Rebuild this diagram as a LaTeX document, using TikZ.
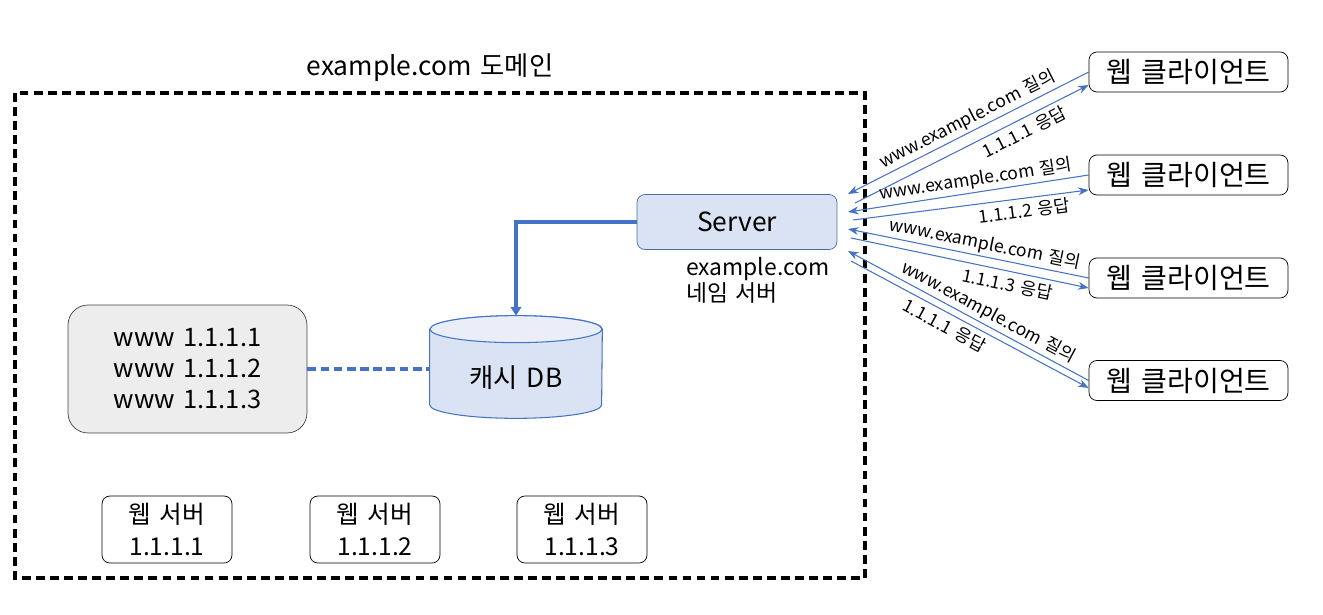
\documentclass[tikz,border=0pt]{standalone}
\usepackage{fontspec}
\setmainfont[WordSpace=1.5]{Noto Sans CJK KR}
\usepackage{tikz}
\usetikzlibrary{arrows.meta}
\definecolor{acblue}{HTML}{4472C4}
\definecolor{srvline}{HTML}{41719C}
\definecolor{srvfill}{HTML}{DAE3F3}
\definecolor{dbtop}{HTML}{E9EEF8}
\definecolor{recfill}{HTML}{EDEDED}
\newcommand{\bigtxt}{\fontsize{15}{18}\selectfont}
\newcommand{\smalltxt}{\fontsize{10}{12}\selectfont}

\begin{document}
\begin{tikzpicture}[x=0.02cm, y=0.02cm,
    box/.style={draw, rounded corners=4.5pt, align=center, inner sep=0pt, font=\bigtxt},
    client/.style={box, minimum width=3.98cm, minimum height=0.8cm, font=\fontsize{16}{19}\selectfont},
    web/.style={box, minimum width=2.6cm, minimum height=1.34cm, font=\fontsize{14}{18}\selectfont},
    srv/.style={box, draw=srvline, fill=srvfill, minimum width=4cm, minimum height=1.1cm},
    dnsbox/.style={box, draw=black!75, fill=recfill, rounded corners=0.4cm, minimum width=4.78cm, minimum height=2.56cm, font=\fontsize{14.5}{17.6}\selectfont},
    dbline/.style={draw=acblue, line width=0.6pt},
    domainbox/.style={line width=2pt, dash pattern=on 5pt off 3pt},
    elbow/.style={acblue, line width=2pt, -{Triangle[length=5pt,width=6pt]}},
    cachelink/.style={acblue, line width=2pt, dash pattern=on 5pt off 2.5pt},
    msg/.style={acblue, line width=0.6pt, -{Stealth[length=6pt,width=4.5pt]}},
    qlabel/.style={sloped, above, inner sep=1.5pt, text=black, font=\smalltxt},
    rlabel/.style={sloped, below, inner sep=2.5pt, text=black, font=\smalltxt}]
    \useasboundingbox (0,0) rectangle (1323,-615);

    \draw[domainbox] (15,-93) rectangle (865,-578);
    \node[font=\bigtxt] (dtitle) at (430,-68) {example.com 도메인};

    \node[srv] (server) at (737,-222) {Server};
    \node[align=left, anchor=west, font=\fontsize{13}{14.8}\selectfont] (nsname) at (680,-280) {example.com\\네임 서버};

    \node[minimum width=3.44cm, minimum height=2.04cm, inner sep=0pt] (db) at (516,-367) {};
    \draw[dbline, fill=srvfill] ([yshift=-0.27cm]db.north west) -- ([yshift=0.27cm]db.south west)
        arc[start angle=180, end angle=360, x radius=1.72cm, y radius=0.27cm]
        -- ([yshift=-0.27cm]db.north east)
        arc[start angle=0, end angle=180, x radius=1.72cm, y radius=0.27cm] -- cycle;
    \draw[dbline, fill=dbtop] ([yshift=-0.27cm]db.north) ellipse[x radius=1.72cm, y radius=0.27cm];
    \node[font=\bigtxt] (dbname) at ([yshift=-0.22cm]db.center) {캐시 DB};

    \node[dnsbox] (records) at (187.5,-369) {www 1.1.1.1\\www 1.1.1.2\\www 1.1.1.3};

    \node[web] (web1) at (167,-529.5) {웹 서버\\1.1.1.1};
    \node[web] (web2) at (375,-529.5) {웹 서버\\1.1.1.2};
    \node[web] (web3) at (582,-529.5) {웹 서버\\1.1.1.3};

    \node[client] (c1) at (1188.5,-72) {웹 클라이언트};
    \node[client] (c2) at (1188.5,-175) {웹 클라이언트};
    \node[client] (c3) at (1188.5,-278) {웹 클라이언트};
    \node[client] (c4) at (1188.5,-380.5) {웹 클라이언트};

    \draw[elbow] (server.west) -| (db.north);
    \draw[cachelink] (records.east) -- (records.east -| db.west);

    \coordinate (q1) at (848,-194);
    \coordinate (r1) at (855,-203);
    \coordinate (q2) at (848,-212);
    \coordinate (r2) at (853,-220);
    \coordinate (q3) at (848,-229);
    \coordinate (r3) at (851,-238);
    \coordinate (q4) at (848,-251);
    \coordinate (r4) at (851,-261);

    \draw[msg] (c1.west) -- node[qlabel, pos=0.48] {www.example.com 질의} (q1);
    \draw[msg] (r1) -- node[rlabel, pos=0.7] {1.1.1.1 응답} ([yshift=-0.26cm]c1.west);
    \draw[msg] (c2.west) -- node[qlabel, pos=0.46] {www.example.com 질의} (q2);
    \draw[msg] (r2) -- node[rlabel, pos=0.72] {1.1.1.2 응답} ([yshift=-0.3cm]c2.west);
    \draw[msg] (c3.west) -- node[qlabel, pos=0.44] {www.example.com 질의} (q3);
    \draw[msg] (r3) -- node[rlabel, pos=0.67] {1.1.1.3 응답} ([yshift=-0.2cm]c3.west);
    \draw[msg] (c4.west) -- node[qlabel, pos=0.44] {www.example.com 질의} (q4);
    \draw[msg] (r4) -- node[rlabel, pos=0.42] {1.1.1.1 응답} ([yshift=-0.15cm]c4.west);
\end{tikzpicture}
\end{document}
